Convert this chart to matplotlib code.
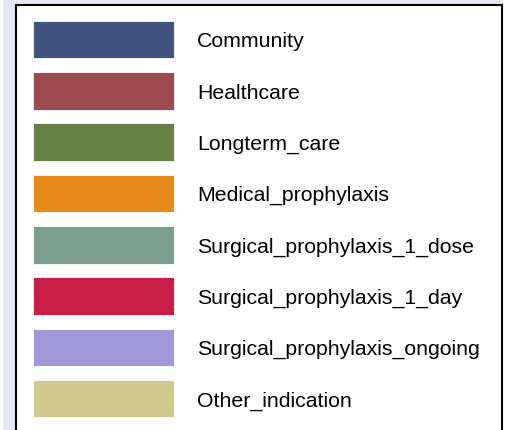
import matplotlib
matplotlib.use("Agg")
from matplotlib import pyplot as plt
from matplotlib.patches import Rectangle

categories = ["Community", "Healthcare", "Longterm_care", "Medical_prophylaxis",
              "Surgical_prophylaxis_1_dose", "Surgical_prophylaxis_1_day",
              "Surgical_prophylaxis_ongoing", "Other_indication"]
colors = ["#3e547f", "#9c4a50", "#658244", "#e68a1b",
          "#7b9e8f", "#c81e48", "#a29ad8", "#cfcb8f"]

W, H = 508, 430
fig = plt.figure(figsize=(W / 100, H / 100), dpi=100)
ax = fig.add_axes([0, 0, 1, 1])
ax.set_xlim(0, W)
ax.set_ylim(H, 0)
ax.axis("off")

# hintergrund und legendenrahmen
ax.add_patch(Rectangle((3, -5), 500, H + 10, facecolor="#e2e7f1", edgecolor="none"))
ax.add_patch(Rectangle((16, 5), 486, H + 10, facecolor="white",
                       edgecolor="black", linewidth=1.5))

row_h = 51.3
for i, (cat, col) in enumerate(zip(categories, colors)):
    top = 20.8 + i * row_h
    ax.add_patch(Rectangle((32.5, top), 141.5, 37.5, facecolor=col,
                           edgecolor="white", linewidth=0.6, alpha=1))
    ax.text(197, top + 19, cat, fontsize=15.3, family="Liberation Sans",
            va="center_baseline", ha="left", color="black")

fig.savefig("out.png", dpi=100)
